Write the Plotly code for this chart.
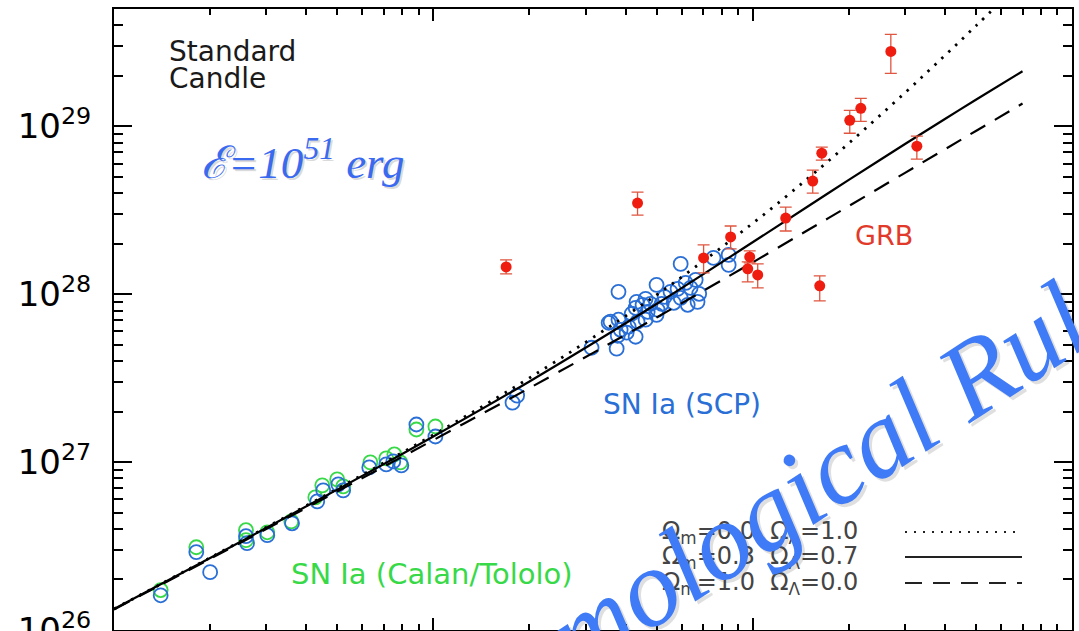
import plotly.graph_objects as go

# ---- SN Ia, Calan/Tololo low-redshift sample (redshift, luminosity distance in cm)
z_calan_green = [0.0140, 0.0181, 0.0259, 0.0259, 0.0302, 0.0359, 0.0427, 0.0449,
                 0.0500, 0.0522, 0.0635, 0.0712, 0.0755, 0.0788, 0.0885, 0.1015]
d_calan_green = [1.73e26, 3.11e26, 3.93e26, 3.43e26, 3.82e26, 4.44e26, 6.17e26, 7.27e26,
                 7.89e26, 7.17e26, 9.96e26, 1.052e27, 1.111e27, 9.96e26, 1.564e27, 1.630e27]

z_calan_blue = [0.0140, 0.0181, 0.0200, 0.0259, 0.0261, 0.0302, 0.0361, 0.0433, 0.0452,
                0.0504, 0.0522, 0.0630, 0.0712, 0.0749, 0.0794, 0.0885, 0.1015]
d_calan_blue = [1.61e26, 2.91e26, 2.21e26, 3.62e26, 3.29e26, 3.67e26, 4.32e26, 5.84e26, 6.79e26,
                7.37e26, 6.79e26, 9.30e26, 9.69e26, 1.010e27, 9.56e26, 1.675e27, 1.421e27]

# ---- SN Ia, Supernova Cosmology Project sample
z_scp = [0.177, 0.183, 0.313, 0.375, 0.378, 0.430, 0.354, 0.380, 0.386, 0.409,
         0.436, 0.462, 0.500, 0.479, 0.433, 0.462, 0.430, 0.500, 0.380, 0.553,
         0.582, 0.617, 0.663, 0.639, 0.595, 0.626, 0.672, 0.566, 0.504, 0.469,
         0.452, 0.595, 0.754, 0.841, 0.841, 0.519, 0.403, 0.359, 0.680, 0.530, 0.418]
d_scp = [2.26e27, 2.49e27, 4.80e27, 4.74e27, 5.66e27, 5.58e27, 6.76e27, 7.05e27, 6.14e27, 6.40e27,
         6.86e27, 7.05e27, 7.54e27, 8.77e27, 9.01e27, 9.39e27, 8.30e27, 1.137e28, 1.034e28, 1.034e28,
         1.077e28, 1.169e28, 1.218e28, 1.091e28, 9.52e27, 8.65e27, 9.01e27, 8.89e27, 8.08e27, 7.86e27,
         8.65e27, 1.516e28, 1.646e28, 1.715e28, 1.495e28, 8.77e27, 5.90e27, 6.86e27, 1.006e28, 9.65e27,
         7.65e27]

# ---- GRBs assuming a standard-candle energy E = 1e51 erg
z_grb = [0.169, 0.436, 0.702, 0.853, 0.979, 0.965, 1.037, 1.269, 1.542, 1.646,
         1.622, 2.014, 2.181, 2.708, 3.267]
d_grb = [1.455e28, 3.49e28, 1.646e28, 2.193e28, 1.668e28, 1.416e28, 1.304e28, 2.844e28, 4.719e28, 6.922e28,
         1.122e28, 1.087e29, 1.281e29, 2.793e29, 7.617e28]
d_grb_hi = [1.601e28, 4.06e28, 1.966e28, 2.550e28, 1.811e28, 1.558e28, 1.516e28, 3.306e28, 5.486e28, 7.513e28,
            1.287e28, 1.246e29, 1.469e29, 3.526e29, 8.738e28]
d_grb_lo = [1.322e28, 2.963e28, 1.341e28, 1.861e28, 1.537e28, 1.185e28, 1.091e28, 2.381e28, 4.004e28, 6.290e28,
            9.14e27, 9.10e28, 1.072e29, 2.068e29, 6.376e28]

# ---- model luminosity-distance curves
z_model = [0.01, 0.02, 0.05, 0.1, 0.2, 0.5, 1.0, 1.5, 2.0, 3.0, 4.0, 5.0, 7.0]
d_lcdm = [1.332e26, 2.684e26, 6.859e26, 1.420e27, 3.024e27, 8.741e27, 2.039e28,
          3.366e28, 4.795e28, 7.845e28, 1.106e29, 1.440e29, 2.130e29]
d_eds = [1.325e26, 2.656e26, 6.688e26, 1.353e27, 2.763e27, 7.275e27, 1.548e28,
         2.429e28, 3.351e28, 5.286e28, 7.305e28, 9.384e28, 1.367e29]
z_desitter = [0.01, 0.02, 0.05, 0.1, 0.2, 0.5, 1.0, 1.5, 2.0, 3.0, 4.0, 5.0, 6.0]
d_desitter = [1.335e26, 2.696e26, 6.938e26, 1.454e27, 3.172e27, 9.911e27, 2.643e28,
              4.956e28, 7.929e28, 1.586e29, 2.643e29, 3.965e29, 5.550e29]

y_tickvals = [1e26, 1e27, 1e28, 1e29]
y_ticktext = ["10<sup>26</sup>", "10<sup>27</sup>", "10<sup>28</sup>", "10<sup>29</sup>"]

legend_labels = ["Ω<sub>m</sub>=0.0  Ω<sub>Λ</sub>=1.0",
                 "Ω<sub>m</sub>=0.3  Ω<sub>Λ</sub>=0.7",
                 "Ω<sub>m</sub>=1.0  Ω<sub>Λ</sub>=0.0"]
legend_dashes = ["2px,7px", "solid", "17px,11px"]

GREEN = "#38d948"
BLUE = "#2a6fd6"
RED = "#ee1d10"
RED_BAR = "#e0553f"
WM_BLUE = "#3f7bf6"

fig = go.Figure()

fig.add_trace(go.Scatter(
    x=z_calan_green, y=d_calan_green, mode="markers", hoverinfo="skip",
    marker=dict(symbol="circle-open", size=14, color=GREEN, line=dict(width=1.8))))
fig.add_trace(go.Scatter(
    x=z_calan_blue, y=d_calan_blue, mode="markers", hoverinfo="skip",
    marker=dict(symbol="circle-open", size=14, color=BLUE, line=dict(width=1.8))))
fig.add_trace(go.Scatter(
    x=z_scp, y=d_scp, mode="markers", hoverinfo="skip",
    marker=dict(symbol="circle-open", size=14, color=BLUE, line=dict(width=1.8))))

fig.add_trace(go.Scatter(
    x=z_desitter, y=d_desitter, mode="lines", hoverinfo="skip",
    line=dict(color="black", width=2.8, dash="2.5px,7px", shape="spline")))
fig.add_trace(go.Scatter(
    x=z_model, y=d_lcdm, mode="lines", hoverinfo="skip",
    line=dict(color="black", width=2.2, shape="spline")))
fig.add_trace(go.Scatter(
    x=z_model, y=d_eds, mode="lines", hoverinfo="skip",
    line=dict(color="black", width=2.2, dash=legend_dashes[2], shape="spline")))

fig.add_trace(go.Scatter(
    x=z_grb, y=d_grb, mode="markers", hoverinfo="skip",
    marker=dict(symbol="circle", size=11, color=RED),
    error_y=dict(type="data", symmetric=False,
                 array=[h - d for h, d in zip(d_grb_hi, d_grb)],
                 arrayminus=[d - l for d, l in zip(d_grb, d_grb_lo)],
                 color=RED_BAR, thickness=1.3, width=6)))

axis_common = dict(showline=True, linecolor="black", linewidth=2, mirror="allticks",
                   ticks="inside", tickcolor="black", tickwidth=1.6,
                   showgrid=False, zeroline=False, automargin=False)

fig.update_layout(
    width=1079, height=631,
    margin=dict(l=114, r=7, t=9, b=1),
    paper_bgcolor="white", plot_bgcolor="white",
    showlegend=False,
    xaxis=dict(type="log", range=[-2, 1], dtick=1, ticklen=12, showticklabels=False,
               minor=dict(ticks="inside", ticklen=6, tickwidth=1.6, tickcolor="black",
                          dtick="D1", showgrid=False),
               **axis_common),
    yaxis=dict(type="log", range=[26, 29.699], tickvals=y_tickvals, ticktext=y_ticktext,
               ticklen=18, ticklabelstandoff=14, ticklabeloverflow="allow",
               tickfont=dict(family="DejaVu Sans", size=34, color="black"),
               minor=dict(ticks="inside", ticklen=9, tickwidth=1.6, tickcolor="black",
                          dtick="D1", showgrid=False),
               **axis_common),
)

def px(X):
    return (X - 114) / 958.0

def py(Y):
    return (630 - Y) / 621.0

ann = []
label_font = "DejaVu Sans"
ann.append(dict(x=px(167), y=py(52), text="Standard", xanchor="left", yanchor="middle",
                font=dict(family=label_font, size=28, color="#1a1a1a")))
ann.append(dict(x=px(167), y=py(78), text="Candle", xanchor="left", yanchor="middle",
                font=dict(family=label_font, size=28, color="#1a1a1a")))
# energy label with soft shadow
for dx, dy, col in [(2, -2, "rgba(90,90,90,0.22)"), (0, 0, "#3a6af0")]:
    ann.append(dict(x=px(302), y=py(160), text="<i>ℰ=10<sup>51</sup> erg</i>",
                    xanchor="center", yanchor="middle", xshift=dx, yshift=dy,
                    font=dict(family="Liberation Serif", size=45, color=col)))
ann.append(dict(x=px(884), y=py(236), text="GRB", xanchor="center", yanchor="middle",
                font=dict(family=label_font, size=27, color="#e23a2a")))
ann.append(dict(x=px(682), y=py(405), text="SN Ia (SCP)", xanchor="center", yanchor="middle",
                font=dict(family=label_font, size=28, color=BLUE)))
ann.append(dict(x=px(432), y=py(574), text="SN Ia (Calan/Tololo)", xanchor="center",
                yanchor="middle", font=dict(family=label_font, size=29, color=GREEN)))

rows_y = [532, 557, 583]
for label, dash, yy in zip(legend_labels, legend_dashes, rows_y):
    ann.append(dict(x=px(660), y=py(yy), text=label, xanchor="left", yanchor="middle",
                    font=dict(family=label_font, size=24, color="#444444")))
    fig.add_shape(type="line", xref="paper", yref="paper",
                  x0=px(905), x1=px(1022), y0=py(yy), y1=py(yy),
                  line=dict(color="#222222", width=2, dash=dash))

# slanted banner text with soft shadow
for dx, dy, col in [(3, -3, "rgba(80,80,80,0.18)"), (0, 0, WM_BLUE)]:
    ann.append(dict(x=px(802), y=py(488), text="<i>Cosmological Rulers</i>",
                    xanchor="center", yanchor="middle", textangle=-33,
                    xshift=dx, yshift=dy,
                    font=dict(family="Liberation Serif", size=110, color=col)))

for a in ann:
    a["showarrow"] = False
    a["xref"] = "paper"
    a["yref"] = "paper"
fig.update_layout(annotations=ann)

fig.write_html("out.html")
